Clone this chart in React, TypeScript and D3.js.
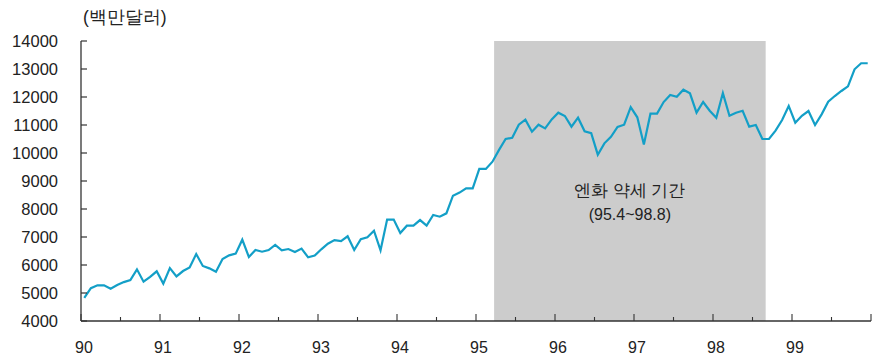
import React from "react";
import * as d3 from "d3";

const years = [1990, 1991, 1992, 1993, 1994, 1995, 1996, 1997, 1998, 1999];
const yearLabels = ["90", "91", "92", "93", "94", "95", "96", "97", "98", "99"];
const yTicks = [4000, 5000, 6000, 7000, 8000, 9000, 10000, 11000, 12000, 13000, 14000];

const v1990 = [4830, 5170, 5275, 5275, 5155, 5285, 5390, 5460, 5845, 5405, 5580, 5775];
const v1991 = [5335, 5890, 5595, 5785, 5915, 6390, 5965, 5880, 5760, 6215, 6345, 6405];
const v1992 = [6905, 6285, 6535, 6475, 6535, 6715, 6525, 6570, 6465, 6585, 6275, 6335];
const v1993 = [6560, 6760, 6890, 6850, 7025, 6535, 6920, 6990, 7225, 6525, 7620, 7620];
const v1994 = [7140, 7405, 7405, 7605, 7405, 7785, 7725, 7845, 8475, 8585, 8740, 8740];
const v1995 = [9430, 9430, 9690, 10110, 10500, 10545, 11010, 11190, 10760, 11010, 10880, 11200];
const v1996 = [11440, 11320, 10940, 11260, 10775, 10705, 9940, 10345, 10580, 10930, 11010, 11640];
const v1997 = [11275, 10300, 11405, 11405, 11820, 12070, 12010, 12260, 12130, 11440, 11820, 11510];
const v1998 = [11260, 12140, 11330, 11440, 11510, 10940, 11000, 10500, 10500, 10800, 11180, 11680];
const v1999 = [11080, 11330, 11500, 11000, 11380, 11830, 12035, 12215, 12380, 12990, 13205, 13205];

const series = [v1990, v1991, v1992, v1993, v1994, v1995, v1996, v1997, v1998, v1999];

const shadeStart = 1995 + 2.75 / 12;
const shadeEnd = 1998 + 8 / 12;

const unitLabel = "(백만달러)";
const annotLine1 = "엔화 약세 기간";
const annotLine2 = "(95.4~98.8)";

export default function App() {
  const W = 876;
  const H = 356;
  const left = 81;
  const right = 871;
  const top = 41;
  const bottom = 321;

  const x = d3.scaleLinear().domain([1990, 2000]).range([left, right]);
  const y = d3.scaleLinear().domain([4000, 14000]).range([bottom, top]);

  const points: { t: number; v: number }[] = [];
  series.forEach((arr, yi) => {
    arr.forEach((v, m) => {
      points.push({ t: years[yi] + (m + 0.5) / 12, v });
    });
  });

  const line = d3
    .line<{ t: number; v: number }>()
    .x((d) => x(d.t))
    .y((d) => y(d.v));

  const halfTicks = years.map((yr) => yr + 0.5);
  const font = "'Liberation Sans', Arial, sans-serif";
  const txt = "#222";
  const axisColor = "#333";

  return (
    <svg
      width={W}
      height={H}
      style={{ position: "absolute", left: 0, top: 0, background: "#fff" }}
    >
      <rect
        x={x(shadeStart)}
        y={y(14000)}
        width={x(shadeEnd) - x(shadeStart)}
        height={y(4000) - y(14000)}
        fill="#cccccc"
      />
      <path d={line(points) || ""} fill="none" stroke="#139fc7" strokeWidth={2.2} strokeLinejoin="miter" />

      {/* y axis */}
      <line x1={left} x2={left} y1={y(14000)} y2={y(4000)} stroke={axisColor} strokeWidth={1.3} />
      {yTicks.map((t) => (
        <g key={t}>
          <line x1={left} x2={left + 6} y1={y(t)} y2={y(t)} stroke={axisColor} strokeWidth={1.2} />
          <text
            x={58}
            y={y(t)}
            textAnchor="end"
            dominantBaseline="central"
            fontFamily={font}
            fontSize={16.5}
            fill={txt}
          >
            {t}
          </text>
        </g>
      ))}

      {/* x axis */}
      <line x1={left} x2={right} y1={bottom} y2={bottom} stroke={axisColor} strokeWidth={1.3} />
      {[...years, 2000].map((yr) => (
        <line key={"M" + yr} x1={x(yr)} x2={x(yr)} y1={bottom} y2={bottom - 7} stroke={axisColor} strokeWidth={1.1} />
      ))}
      {halfTicks.map((t) => (
        <line key={"h" + t} x1={x(t)} x2={x(t)} y1={bottom} y2={bottom - 4} stroke={axisColor} strokeWidth={1.1} />
      ))}
      {years.map((yr, i) => (
        <text
          key={"l" + yr}
          x={x(yr) + 3}
          y={353}
          textAnchor="middle"
          fontFamily={font}
          fontSize={16}
          fill={txt}
        >
          {yearLabels[i]}
        </text>
      ))}

      <text x={83} y={17} dominantBaseline="central" fontFamily={font} fontSize={17.5} fill={txt}>
        {unitLabel}
      </text>

      <text
        x={(x(shadeStart) + x(shadeEnd)) / 2}
        y={190}
        textAnchor="middle"
        dominantBaseline="central"
        fontFamily={font}
        fontSize={16.5}
        fill={txt}
      >
        {annotLine1}
      </text>
      <text
        x={(x(shadeStart) + x(shadeEnd)) / 2}
        y={214}
        textAnchor="middle"
        dominantBaseline="central"
        fontFamily={font}
        fontSize={16}
        fill={txt}
      >
        {annotLine2}
      </text>
    </svg>
  );
}
